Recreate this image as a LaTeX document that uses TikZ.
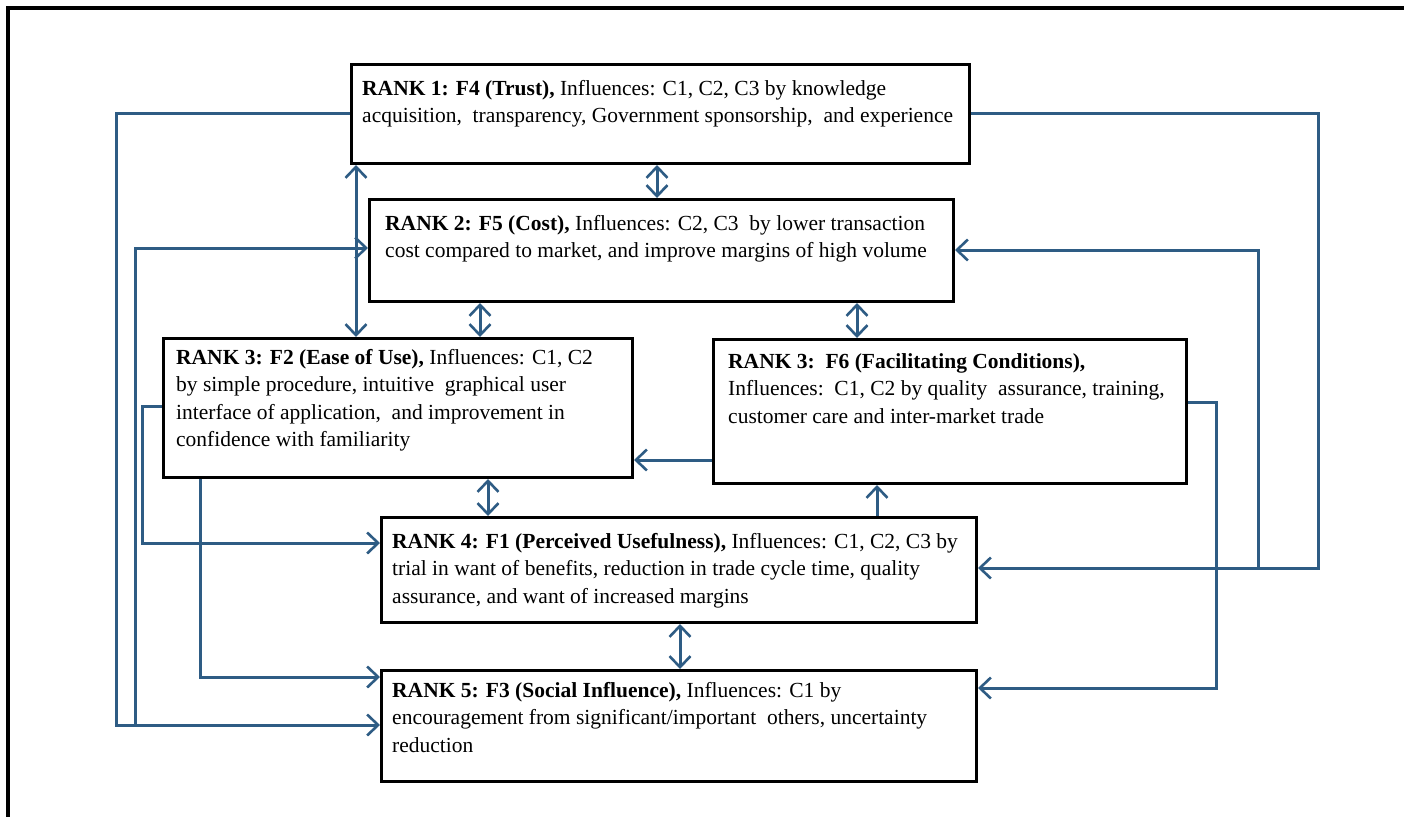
\documentclass[tikz,border=0pt]{standalone}
\usepackage{fontspec}
\setmainfont{Liberation Serif}
\usetikzlibrary{arrows.meta}
\definecolor{linkblue}{RGB}{46,92,132}
\begin{document}
\begin{tikzpicture}[x=1pt,y=-1pt,
  rankbox/.style={draw=black,line width=3pt,fill=white,inner sep=0pt,anchor=north west},
  ranktext/.style={inner sep=0pt,anchor=north west,align=left,
    font=\fontsize{21.5}{27.5}\selectfont},
  conn/.style={draw=linkblue,line width=3pt,
    arrows={-Straight Barb[length=11pt,width=21pt,line width=2.6pt]}},
  biconn/.style={conn,arrows={Straight Barb[length=11pt,width=21pt,line width=2.6pt]-Straight Barb[length=11pt,width=21pt,line width=2.6pt]}}]
\useasboundingbox (0,0) rectangle (1404,816);
% outer frame
\draw[line width=4.5pt] (8,8) rectangle (1430,840);

% factor boxes
\node[rankbox,minimum width=618pt,minimum height=99pt] (b1) at (350,63) {};
\node[rankbox,minimum width=584pt,minimum height=102pt] (b2) at (368,198) {};
\node[rankbox,minimum width=469pt,minimum height=139pt] (f2) at (162,337) {};
\node[rankbox,minimum width=473pt,minimum height=144pt] (f6) at (712,338) {};
\node[rankbox,minimum width=595pt,minimum height=105pt] (f1) at (380,516) {};
\node[rankbox,minimum width=595pt,minimum height=111pt] (f3) at (380,669) {};

\node[ranktext] (t1) at (362,80) {\textbf{RANK 1: F4 (Trust),} Influences: C1, C2, C3 by knowledge\\
acquisition,\ \ transparency, Government sponsorship,\ \ and experience};
\node[ranktext] (t2) at (385,215) {\textbf{RANK 2: F5 (Cost),} Influences: C2, C3\ \ by lower transaction\\
cost compared to market, and improve margins of high volume};
\node[ranktext] (t3) at (176,349) {\textbf{RANK 3: F2 (Ease of Use),} Influences: C1, C2\\
by simple procedure, intuitive\ \ graphical user\\
interface of application,\ \ and improvement in\\
confidence with familiarity};
\node[ranktext] (t4) at (728,353) {\textbf{RANK 3:\ \ F6 (Facilitating Conditions),}\\
Influences:\ \ C1, C2 by quality\ \ assurance, training,\\
customer care and inter-market trade};
\node[ranktext] (t5) at (392,533) {\textbf{RANK 4: F1 (Perceived Usefulness),} Influences: C1, C2, C3 by\\
trial in want of benefits, reduction in trade cycle time, quality\\
assurance, and want of increased margins};
\node[ranktext] (t6) at (392,682) {\textbf{RANK 5: F3 (Social Influence),} Influences: C1 by\\
encouragement from significant/important\ \ others, uncertainty\\
reduction};

% junctions on shared lines
\coordinate (jl) at (135,725);
\coordinate (jr) at (1258,568);

% links between neighbouring boxes
\draw[biconn] (b1.south -| 356,0) -- (f2.north -| 356,0);
\draw[biconn] (b1.south -| 657,0) -- (b2.north -| 657,0);
\draw[biconn] (b2.south -| 480,0) -- (f2.north -| 480,0);
\draw[biconn] (b2.south -| 857,0) -- (f6.north -| 857,0);
\draw[conn] (f6.west |- 0,460) -- (f2.east |- 0,460);
\draw[biconn] (f2.south -| 488,0) -- (f1.north -| 488,0);
\draw[conn] (f1.north -| 877,0) -- (f6.south -| 877,0);
\draw[biconn] (f1.south -| 680,0) -- (f3.north -| 680,0);

% routed links on the left
\draw[conn] (b1.west |- 0,113) -- (116,113) -- (116,725) -- (f3.west |- 0,725);
\draw[conn] (jl) -- (135,248) -- (b2.west |- 0,248);
\draw[conn] (f2.west |- 0,406) -- (142,406) -- (142,543) -- (f1.west |- 0,543);
\draw[conn] (f2.south -| 200,0) -- (200,677) -- (f3.west |- 0,677);

% routed links on the right
\draw[conn] (f6.east |- 0,402) -- (1216,402) -- (1216,688) -- (f3.east |- 0,688);
\draw[conn] (b1.east |- 0,113) -- (1318,113) -- (1318,568) -- (f1.east |- 0,568);
\draw[conn] (jr) -- (1258,250) -- (b2.east |- 0,250);
\end{tikzpicture}
\end{document}
